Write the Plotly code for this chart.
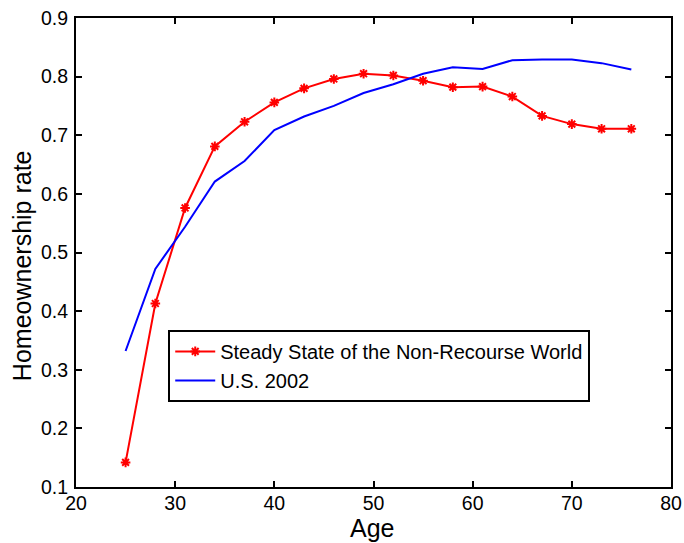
import plotly.graph_objects as go

ages = [25, 28, 31, 34, 37, 40, 43, 46, 49, 52, 55, 58, 61, 64, 67, 70, 73, 76]
steady_state = [0.142, 0.413, 0.576, 0.681, 0.723, 0.756, 0.780, 0.796, 0.805, 0.802,
                0.793, 0.782, 0.783, 0.766, 0.733, 0.719, 0.711, 0.711]
us_2002 = [0.332, 0.472, 0.544, 0.621, 0.656, 0.709, 0.732, 0.750, 0.772, 0.787,
           0.805, 0.816, 0.813, 0.828, 0.829, 0.829, 0.823, 0.812]

x_ticks = [20, 30, 40, 50, 60, 70, 80]
y_ticks = [0.1, 0.2, 0.3, 0.4, 0.5, 0.6, 0.7, 0.8, 0.9]

FONT = "Liberation Sans, Arial, Helvetica, sans-serif"

fig = go.Figure()
fig.add_trace(go.Scatter(
    x=ages, y=steady_state, mode="lines+markers",
    name="Steady State of the Non-Recourse World",
    line=dict(color="#ff0000", width=2),
    marker=dict(symbol="asterisk-open", size=8, color="#ff0000",
                line=dict(color="#ff0000", width=2)),
))
fig.add_trace(go.Scatter(
    x=ages, y=us_2002, mode="lines", name="U.S. 2002",
    line=dict(color="#0000ff", width=2),
))

axis_common = dict(
    showgrid=False, zeroline=False, showline=True, linecolor="black", linewidth=2,
    mirror="ticks", ticks="inside", ticklen=6, tickwidth=1.5, tickcolor="black",
    tickfont=dict(family=FONT, size=19.5, color="black"), automargin=False,
)

fig.update_layout(
    width=684, height=543,
    margin=dict(l=76, r=13, t=18, b=56),
    paper_bgcolor="white", plot_bgcolor="white",
    font=dict(family=FONT, color="black"),
    xaxis=dict(range=[20, 80], tickvals=x_ticks, ticktext=[str(v) for v in x_ticks],
               ticklabelstandoff=-2, **axis_common),
    yaxis=dict(range=[0.1, 0.9], tickvals=y_ticks, ticktext=[f"{v:.1f}" for v in y_ticks],
               ticklabelstandoff=2, **axis_common),
    legend=dict(x=0.155, y=0.335, xanchor="left", yanchor="top",
                bordercolor="black", borderwidth=2, bgcolor="white",
                font=dict(family=FONT, size=20), tracegroupgap=0, itemwidth=40),
    showlegend=True,
    annotations=[
        dict(text="Age", xref="paper", yref="paper", x=0.4975, y=-0.1194,
             xanchor="center", yanchor="bottom", showarrow=False, borderpad=0,
             font=dict(family=FONT, size=25, color="black")),
        dict(text="Homeownership rate", xref="paper", yref="paper", x=-0.0908, y=0.473,
             xanchor="center", yanchor="middle", textangle=-90, showarrow=False,
             font=dict(family=FONT, size=25, color="black")),
    ],
)

fig.write_html(
    "out.html",
    config={"displayModeBar": False},
    post_script="document.body.style.margin='0';document.body.style.overflow='hidden';",
)
